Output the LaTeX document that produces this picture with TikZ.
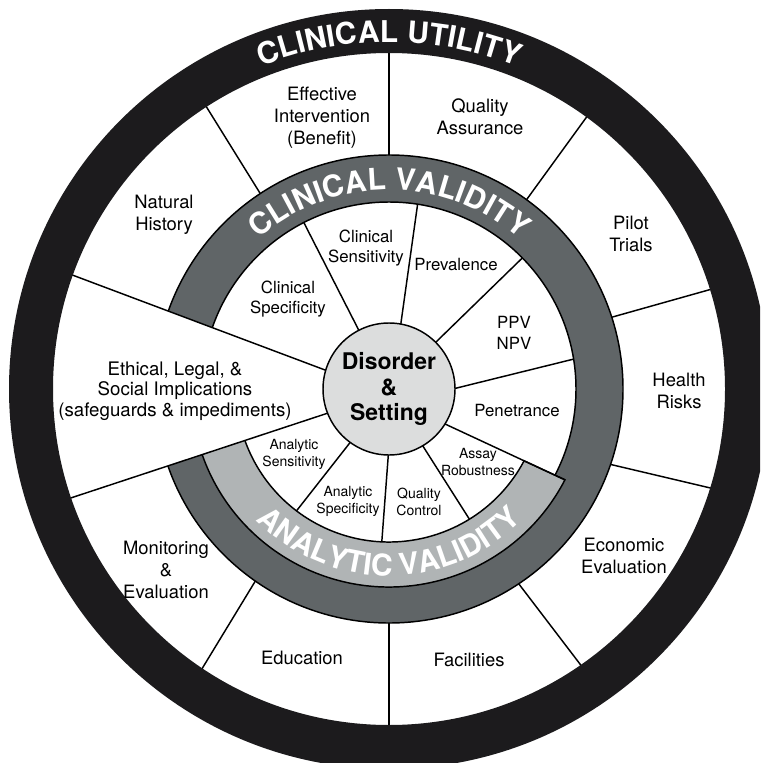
\documentclass[tikz,border=0pt]{standalone}
\usepackage{fontspec}
\setmainfont{TeX Gyre Heros}
\usetikzlibrary{decorations.text}

\definecolor{utilityblack}{RGB}{28,27,29}
\definecolor{validitygrey}{RGB}{96,101,103}
\definecolor{analyticgrey}{RGB}{176,180,181}
\definecolor{hubgrey}{RGB}{220,221,221}

\tikzset{every picture/.style={line width=0.75pt}}
\tikzset{
  spoke/.style={line width=1.1pt},
  outerlbl/.style={align=center,font=\fontsize{13.8}{16.5}\selectfont},
  elsilbl/.style={align=center,font=\fontsize{14}{15.5}\selectfont},
  cliniclbl/.style={align=center,font=\fontsize{12.6}{15.3}\selectfont},
  analyticlbl/.style={align=center,font=\fontsize{10.5}{12.8}\selectfont},
  hublbl/.style={align=center,font=\fontsize{17.2}{18.8}\selectfont\bfseries},
  ringtitle/.style={decorate,decoration={text along path,text align=center,text color=white,
    text={|\fontsize{22.5}{27}\selectfont\bfseries|#1}}}
}

\begin{document}
\begin{tikzpicture}[x=0.75pt,y=0.75pt,yscale=-1,xscale=1]
	\path[use as bounding box] (0,0) rectangle (760,763);
	\clip (0,0) rectangle (760,763);
	\fill[white] (0,0) rectangle (760,763);

	\begin{scope}[shift={(389,389)},yscale=-1]
	%Straight Lines: outer spokes
	\foreach \a/\b in {17.9/17.2, 54/54, 90/90, 123.4/122.9, -18.9/-17.1, -56.4/-55.2, -90/-90, -124.9/-123.75}
		\draw[spoke] (\a:230) -- (\b:338);
	%Shape: Ring (clinical validity)
	\filldraw[fill=validitygrey,draw=black,spoke,even odd rule] (0,0) circle (234) (0,0) circle (187);
	%Shape: Arc band (analytic validity), left end hidden under the ethical sector
	\filldraw[fill=analyticgrey,draw=black,spoke] (195:198) arc[start angle=195,end angle=332.7,radius=198]
		-- (332:153) arc[start angle=332,end angle=195,radius=153] -- cycle;
	%Shape: gap for the ethical sector
	\fill[white] (163.5:66) -- (160.2:338) -- (198.9:338) -- (201.5:66) -- cycle;
	%Straight Lines: clinical spokes
	\foreach \a/\b in {117.2/117.1, 79.7/81.2, 45/44.5, 0.5/9.2}
		\draw[spoke] (\a:66) -- (\b:187);
	%Straight Lines: analytic spokes
	\draw[spoke] (-32:66) -- (-27.3:198);
	\foreach \a/\b in {-59.3/-58.3, -90.6/-92.7, -126/-127.2}
		\draw[spoke] (\a:66) -- (\b:153);
	%Straight Lines: ethical sector
	\draw[spoke] (163.5:66) -- (160.2:338);
	\draw[spoke] (201.5:66) -- (198.9:338);
	%Shape: Circle (hub)
	\filldraw[fill=hubgrey,draw=black,spoke] (0,0) circle (66);
	%Shape: Ring (clinical utility)
	\fill[utilityblack,even odd rule] (0,0) circle (380) (0,0) circle (336);

	%Curved text
	\path[ringtitle=CLINICAL UTILITY] (130:347) arc[start angle=130,end angle=50,radius=347];
	\path[ringtitle=CLINICAL VALIDITY] (150:199) arc[start angle=150,end angle=30,radius=199];
	\path[ringtitle=ANALYTIC VALIDITY] (200:187) arc[start angle=200,end angle=340,radius=187];
	\end{scope}

	% Text Node
	\node[hublbl] (hub) at (389,389) {Disorder\\\&\\Setting};
	% Text Node
	\node[outerlbl] (intervention) at (322,118) {Effective\\Intervention\\(Benefit)};
	\node[outerlbl] (assurance) at (480,117) {Quality\\Assurance};
	\node[outerlbl] (history) at (164,215) {Natural\\History};
	\node[outerlbl] (pilot) at (631,234) {Pilot\\Trials};
	\node[outerlbl] (risks) at (679,391) {Health\\Risks};
	\node[outerlbl] (economic) at (624,556) {Economic\\Evaluation};
	\node[outerlbl] (facilities) at (469,660) {Facilities};
	\node[outerlbl] (education) at (302,658) {Education};
	\node[outerlbl] (monitoring) at (166,570) {Monitoring\\\&\\Evaluation};
	\node[elsilbl] (elsi) at (175,391) {Ethical, Legal, \&\\Social Implications\\(safeguards \& impediments)};
	% Text Node
	\node[cliniclbl] (clinspec) at (288,299) {Clinical\\Specificity};
	\node[cliniclbl] (clinsens) at (366,248) {Clinical\\Sensitivity};
	\node[cliniclbl] (prevalence) at (456,265) {Prevalence};
	\node[cliniclbl] (ppv) at (514,333) {PPV\\NPV};
	\node[cliniclbl] (penetrance) at (517,410) {Penetrance};
	% Text Node
	\node[analyticlbl] (anasens) at (294,454) {Analytic\\Sensitivity};
	\node[analyticlbl] (anaspec) at (348,501) {Analytic\\Specificity};
	\node[analyticlbl] (qc) at (419,502) {Quality\\Control};
	\node[analyticlbl] (assay) at (478,462) {Assay\\Robustness};

\end{tikzpicture}
\end{document}
